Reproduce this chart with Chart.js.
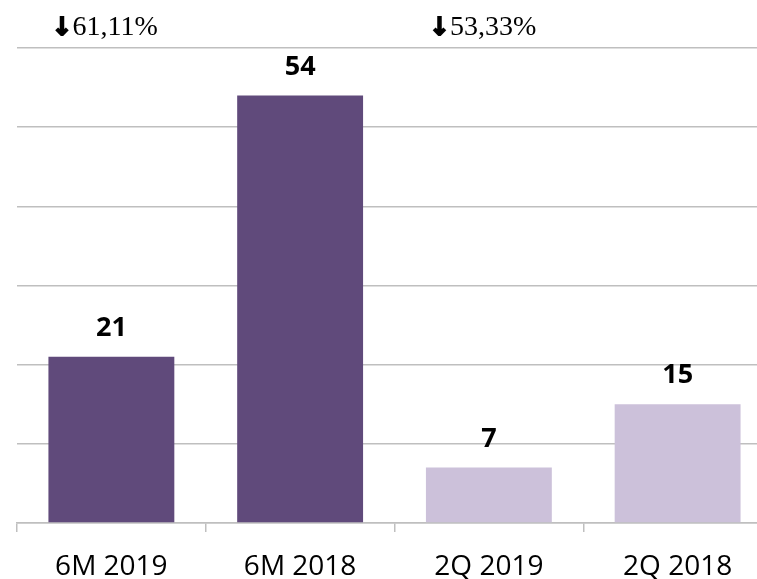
<!DOCTYPE html>
<html>
<head>
<meta charset="utf-8">
<script src="https://cdn.jsdelivr.net/npm/chart.js@4/dist/chart.umd.min.js"></script>
<style>
  html, body { margin: 0; padding: 0; background: #fff; overflow: hidden; }
  #wrap { width: 775px; height: 579px; }
</style>
</head>
<body>
<div id="wrap"><canvas id="chart" width="775" height="579"></canvas></div>
<script>
const categories = ['6M 2019', '6M 2018', '2Q 2019', '2Q 2018'];
const values = [21, 54, 7, 15];
const barColors = ['#604a7b', '#604a7b', '#ccc1da', '#ccc1da'];
// change labels shown above the pairs (index of the first bar of each pair)
const changeIndex = [0, 2];
const changeText = ['61,11%', '53,33%'];

const gridGray = '#bfbfbf';

// bold value above each bar
const valueLabels = {
  id: 'valueLabels',
  afterDatasetsDraw(chart) {
    const ctx = chart.ctx;
    const meta = chart.getDatasetMeta(0);
    ctx.save();
    ctx.font = 'bold 27px "Open Sans"';
    ctx.fillStyle = '#000';
    ctx.textAlign = 'center';
    ctx.textBaseline = 'alphabetic';
    meta.data.forEach((bar, i) => {
      ctx.fillText(values[i], bar.x, bar.y - 21);
    });
    ctx.restore();
  }
};

// "↓ xx%" notes above the chart area
const changeNotes = {
  id: 'changeNotes',
  afterDraw(chart) {
    const ctx = chart.ctx;
    const meta = chart.getDatasetMeta(0);
    const y = chart.chartArea.top - 13;
    ctx.save();
    ctx.fillStyle = '#000';
    ctx.strokeStyle = '#000';
    ctx.textAlign = 'left';
    ctx.textBaseline = 'alphabetic';
    changeIndex.forEach((idx, k) => {
      const bar = meta.data[idx];
      const left = bar.x - bar.width / 2 + 3;
      // heavy arrow: bold glyph with a thin stroke to thicken it
      ctx.font = 'bold 25px "DejaVu Sans"';
      ctx.lineWidth = 1.6;
      ctx.strokeText('\u2193', left, y);
      ctx.fillText('\u2193', left, y);
      ctx.font = '28px "Liberation Serif"';
      ctx.fillText(changeText[k], left + 21, y);
    });
    ctx.restore();
  }
};

new Chart(document.getElementById('chart'), {
  type: 'bar',
  data: {
    labels: categories,
    datasets: [{
      data: values,
      backgroundColor: barColors,
      borderWidth: 0,
      categoryPercentage: 1,
      barPercentage: 0.667
    }]
  },
  options: {
    responsive: false,
    animation: false,
    layout: { padding: { left: 17, right: 3, top: 48, bottom: 0 } },
    plugins: {
      legend: { display: false },
      tooltip: { enabled: false }
    },
    scales: {
      x: {
        grid: {
          offset: true,
          drawOnChartArea: false,
          drawTicks: true,
          tickLength: 9,
          color: gridGray,
          lineWidth: 1.5
        },
        border: { display: true, color: gridGray, width: 1.5 },
        ticks: {
          color: '#000',
          font: { family: '"Open Sans"', size: 28 },
          padding: 18,
          maxRotation: 0
        },
        afterFit(scale) { scale.height = 56; }
      },
      y: {
        min: 0,
        max: 60,
        ticks: { stepSize: 10, display: false },
        grid: { color: gridGray, lineWidth: 1.5, drawTicks: false },
        border: { display: false },
        afterFit(scale) { scale.width = 0; }
      }
    }
  },
  plugins: [valueLabels, changeNotes]
});
</script>
</body>
</html>
